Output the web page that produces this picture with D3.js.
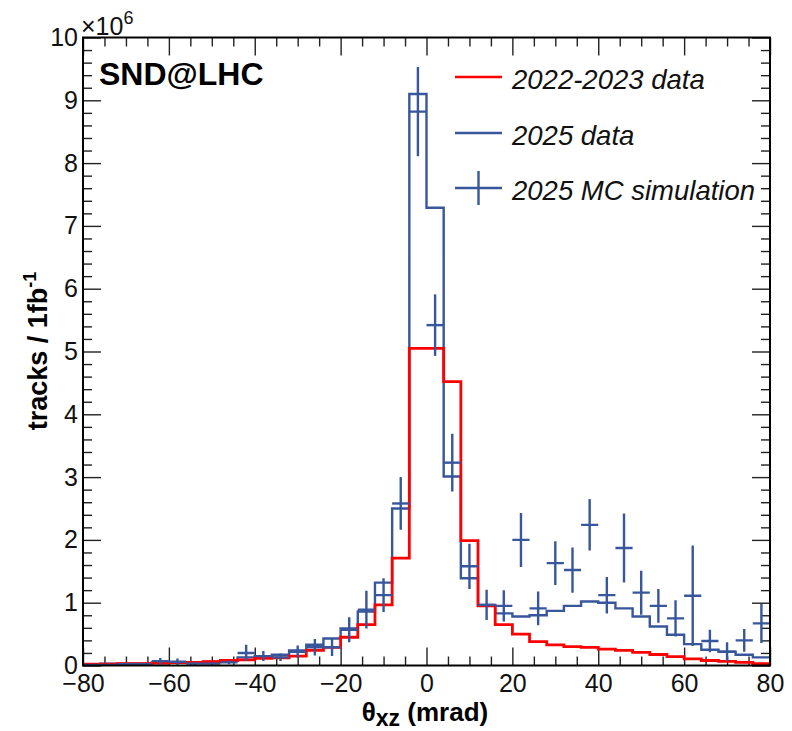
<!DOCTYPE html>
<html><head><meta charset="utf-8">
<script src="https://cdn.jsdelivr.net/npm/d3@7"></script>
<style>body{margin:0;background:#fff}svg{display:block}</style>
</head><body><svg id="c" width="792" height="731"></svg>
<script>
// ---- data ----
const binLow = [-80,-76,-72,-68,-64,-60,-56,-52,-48,-44,-40,-36,-32,-28,-24,-20,-16,-12,-8,-4,
                 0,4,8,12,16,20,24,28,32,36,40,44,48,52,56,60,64,68,72,76];
const binHigh = 80;
const binCenter = [-78,-74,-70,-66,-62,-58,-54,-50,-46,-42,-38,-34,-30,-26,-22,-18,-14,-10,-6,-2,
                   2,6,10,14,18,22,26,30,34,38,42,46,50,54,58,62,66,70,74,78];
const data2022 = [0.02,0.02,0.03,0.03,0.04,0.045,0.05,0.06,0.08,0.09,0.115,0.12,0.15,0.24,0.29,0.45,0.65,0.965,1.71,5.05,
                  5.05,4.52,1.99,0.95,0.65,0.50,0.38,0.33,0.30,0.29,0.26,0.24,0.21,0.175,0.14,0.105,0.08,0.065,0.05,0.03];
const data2025 = [0.02,0.03,0.03,0.03,0.04,0.05,0.05,0.06,0.08,0.13,0.15,0.17,0.24,0.33,0.43,0.59,0.86,1.32,2.50,9.10,
                  7.29,3.01,1.39,0.965,0.83,0.78,0.80,0.87,0.95,1.02,1.00,0.91,0.78,0.62,0.49,0.34,0.25,0.22,0.17,0.13];
const mcValue = [0.01,0.01,0.02,0.02,0.07,0.06,0.03,0.03,0.05,0.20,0.15,0.13,0.22,0.29,0.29,0.57,0.89,1.12,2.58,8.82,
                 5.42,3.23,1.58,0.965,0.95,2.00,0.91,1.63,1.52,2.24,1.12,1.87,1.16,0.95,0.75,1.11,0.39,0.22,0.40,0.67];
const mcError = [0.01,0.01,0.02,0.02,0.05,0.05,0.03,0.02,0.03,0.13,0.08,0.06,0.10,0.13,0.14,0.20,0.30,0.27,0.42,0.71,
                 0.49,0.46,0.36,0.24,0.25,0.43,0.27,0.35,0.36,0.41,0.29,0.55,0.35,0.27,0.29,0.80,0.18,0.15,0.18,0.31];
const xMajorTicks = [-80,-60,-40,-20,0,20,40,60,80];
const yMajorTicks = [0,1,2,3,4,5,6,7,8,9,10];
const legendLabels = ["2022-2023 data","2025 data","2025 MC simulation"];

// ---- layout ----
const L = 83, R = 770, T = 37.5, B = 665.5;
const RED = "#ff0000", BLUE = "#37569b";
const FONT = "'Liberation Sans', Arial, Helvetica, sans-serif";
const svg = d3.select("#c");
svg.append("rect").attr("width",792).attr("height",731).attr("fill","#fff");
const x = d3.scaleLinear().domain([-80,80]).range([L,R]);
const y = d3.scaleLinear().domain([0,10]).range([B,T]);

svg.append("defs").append("clipPath").attr("id","clip")
  .append("rect").attr("x",L).attr("y",T).attr("width",R-L).attr("height",B-T);

// minor tick positions (axis decoration)
const xMinor = d3.range(-80,80.1,5).filter(v=>v%20!==0);
const yMinor = d3.range(0,10.01,0.2).map(v=>+v.toFixed(1)).filter(v=>Math.abs(v-Math.round(v))>1e-6);

function styleAxis(g){
  g.select(".domain").remove();
  g.selectAll(".tick line").attr("stroke","#222").attr("stroke-width",1.4);
  g.selectAll("text").attr("font-family",FONT).attr("font-size",25).attr("fill","#111");
}
// bottom
svg.append("g").attr("transform",`translate(0,${B})`)
  .call(d3.axisBottom(x).tickValues(xMajorTicks).tickSizeInner(-18).tickSizeOuter(0).tickPadding(9))
  .call(styleAxis);
svg.append("g").attr("transform",`translate(0,${B})`)
  .call(d3.axisBottom(x).tickValues(xMinor).tickSizeInner(-9).tickSizeOuter(0).tickFormat(""))
  .call(styleAxis);
// top
svg.append("g").attr("transform",`translate(0,${T})`)
  .call(d3.axisTop(x).tickValues(xMajorTicks).tickSizeInner(-18).tickSizeOuter(0).tickFormat(""))
  .call(styleAxis);
svg.append("g").attr("transform",`translate(0,${T})`)
  .call(d3.axisTop(x).tickValues(xMinor).tickSizeInner(-9).tickSizeOuter(0).tickFormat(""))
  .call(styleAxis);
// left
svg.append("g").attr("transform",`translate(${L},0)`)
  .call(d3.axisLeft(y).tickValues(yMajorTicks).tickSizeInner(-18).tickSizeOuter(0).tickPadding(5).tickFormat(d3.format("d")))
  .call(styleAxis);
svg.append("g").attr("transform",`translate(${L},0)`)
  .call(d3.axisLeft(y).tickValues(yMinor).tickSizeInner(-9).tickSizeOuter(0).tickFormat(""))
  .call(styleAxis);
// right
svg.append("g").attr("transform",`translate(${R},0)`)
  .call(d3.axisRight(y).tickValues(yMajorTicks).tickSizeInner(-18).tickSizeOuter(0).tickFormat(""))
  .call(styleAxis);
svg.append("g").attr("transform",`translate(${R},0)`)
  .call(d3.axisRight(y).tickValues(yMinor).tickSizeInner(-9).tickSizeOuter(0).tickFormat(""))
  .call(styleAxis);

// ---- histograms ----
const step = d3.line().x(d=>x(d[0])).y(d=>y(d[1])).curve(d3.curveStepAfter);
function pts(vals){ const p = binLow.map((b,i)=>[b,vals[i]]); p.push([binHigh, vals[vals.length-1]]); return p; }
const plot = svg.append("g").attr("clip-path","url(#clip)");
plot.append("path").attr("d",step(pts(data2025))).attr("fill","none").attr("stroke",BLUE).attr("stroke-width",2.4);
plot.append("path").attr("d",step(pts(data2022))).attr("fill","none").attr("stroke",RED).attr("stroke-width",2.8);

// ---- MC points ----
const mc = plot.append("g").attr("stroke",BLUE).attr("stroke-width",2.4);
binCenter.forEach((c,i)=>{
  mc.append("line").attr("x1",x(binLow[i])).attr("x2",x(i<binLow.length-1?binLow[i+1]:binHigh))
    .attr("y1",y(mcValue[i])).attr("y2",y(mcValue[i]));
  mc.append("line").attr("x1",x(c)).attr("x2",x(c))
    .attr("y1",y(mcValue[i]-mcError[i])).attr("y2",y(mcValue[i]+mcError[i]));
});

// frame
svg.append("rect").attr("x",L).attr("y",T).attr("width",R-L).attr("height",B-T)
  .attr("fill","none").attr("stroke","#000").attr("stroke-width",2);

// ---- texts ----
const ex = svg.append("text").attr("x",81).attr("y",35).attr("font-family",FONT).attr("font-size",25).attr("fill","#111");
ex.append("tspan").text("×10");
ex.append("tspan").attr("dy",-11).attr("font-size",18).text("6");

svg.append("text").attr("x",99).attr("y",85).attr("font-family",FONT).attr("font-weight","bold")
  .attr("font-size",32).attr("fill","#000").text("SND@LHC");

const yl = svg.append("text").attr("transform","translate(47,351) rotate(-90)").attr("text-anchor","middle")
  .attr("font-family",FONT).attr("font-weight","bold").attr("font-size",27).attr("fill","#000");
yl.append("tspan").text("tracks / 1fb");
yl.append("tspan").attr("dy",-11).attr("font-size",18).text("-1");

const xl = svg.append("text").attr("x",425).attr("y",721).attr("text-anchor","middle")
  .attr("font-family",FONT).attr("font-weight","bold").attr("font-size",26).attr("fill","#000");
xl.append("tspan").text("θ");
xl.append("tspan").attr("dy",5).attr("font-size",23).text("xz");
xl.append("tspan").attr("dy",-5).text(" (mrad)");

// ---- legend ----
const legY = [77,133,188];
const lg = svg.append("g");
lg.append("line").attr("x1",455).attr("x2",502).attr("y1",legY[0]).attr("y2",legY[0]).attr("stroke",RED).attr("stroke-width",2.4);
lg.append("line").attr("x1",455).attr("x2",502).attr("y1",legY[1]).attr("y2",legY[1]).attr("stroke",BLUE).attr("stroke-width",2.4);
lg.append("line").attr("x1",455).attr("x2",502).attr("y1",legY[2]).attr("y2",legY[2]).attr("stroke",BLUE).attr("stroke-width",2.4);
lg.append("line").attr("x1",478.5).attr("x2",478.5).attr("y1",legY[2]-17).attr("y2",legY[2]+17).attr("stroke",BLUE).attr("stroke-width",2.4);
legendLabels.forEach((t,i)=>{
  lg.append("text").attr("x",512).attr("y",legY[i]+12).attr("font-family",FONT).attr("font-style","italic")
    .attr("font-size",27.5).attr("fill","#111").text(t);
});
</script></body></html>
